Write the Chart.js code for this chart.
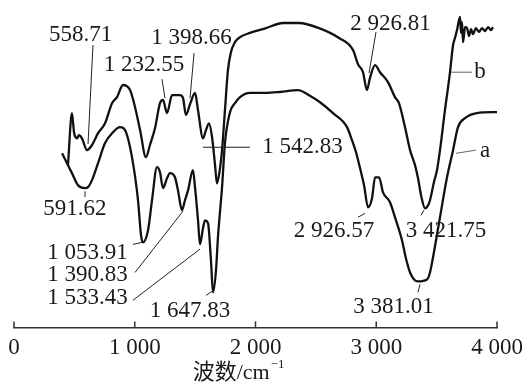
<!DOCTYPE html>
<html>
<head>
<meta charset="utf-8">
<script src="https://cdn.jsdelivr.net/npm/chart.js@4/dist/chart.umd.min.js"></script>
<style>
  html, body { margin: 0; padding: 0; background: #fff; }
  #wrap { width: 532px; height: 384px; position: relative; }
</style>
</head>
<body>
<div id="wrap"><canvas id="c"></canvas></div>
<script>
// ---- Data (wavenumber in cm^-1, relative transmittance) ----
const tickValues = [0, 1000, 2000, 3000, 4000];
const xTitle = '波数/cm';
const xTitleSup = '−1';

const waveB = [447,480,497,522,538,563,605,646,696,754,812,853,903,961,1002,1044,1093,1126,1168,1209,1234,1267,1309,1375,1400,1424,1458,1499,1524,1565,1590,1615,1640,1665,1681,1706,1723,1747,1772,1797,1830,1872,1955,2087,2228,2360,2526,2692,2808,2849,2890,2923,2948,2990,3031,3097,3155,3188,3238,3280,3321,3346,3371,3404,3429,3445,3478,3503,3528,3569,3611,3636,3652,3669,3694,3702,3710,3719,3735,3752,3768,3785,3801,3826,3851,3876,3901,3926,3950,3967];
const transB = [50.8,67.1,61.1,59.2,60.2,59.2,55.5,57.1,60.8,63.9,70.2,72.1,75.9,74.3,69.0,61.8,53.3,57.1,62.4,70.2,71.2,67.1,72.7,72.7,71.8,66.5,69.9,73.4,68.0,59.2,61.8,63.9,59.6,50.8,45.1,49.8,55.5,68.0,80.6,86.2,89.3,90.9,92.2,93.7,95.3,95.3,93.7,90.6,86.8,82.4,79.9,74.3,78.1,82.1,79.9,76.8,72.1,70.2,62.7,55.5,50.8,46.7,41.4,37.3,38.2,39.8,45.5,49.2,55.5,68.0,79.9,88.4,90.6,93.1,97.2,92.2,95.6,89.3,94.0,93.7,91.2,93.4,91.8,93.7,92.5,93.7,92.8,94.0,93.1,94.0];

const waveA = [398,447,480,530,588,613,646,696,754,820,878,919,977,1027,1052,1068,1110,1143,1184,1209,1234,1267,1292,1333,1358,1391,1416,1441,1482,1499,1524,1540,1565,1582,1607,1632,1648,1673,1689,1723,1747,1789,1830,1872,1955,2079,2203,2352,2443,2534,2642,2758,2799,2832,2866,2899,2932,2965,2990,3023,3056,3114,3155,3213,3246,3280,3313,3346,3420,3445,3470,3528,3586,3636,3677,3735,3834,4000];
const transA = [54.5,50.8,48.3,44.5,43.6,43.9,46.1,51.4,57.7,61.1,62.7,61.8,53.3,39.8,28.8,26.6,30.4,39.8,50.2,48.6,43.6,46.7,48.3,47.0,42.9,36.7,39.8,42.9,49.2,43.9,33.5,26.0,31.0,33.5,32.6,20.4,11.0,17.9,28.2,43.9,57.7,67.4,70.2,72.1,73.4,73.4,73.7,74.3,72.7,70.5,67.1,62.7,58.6,54.9,49.8,44.5,37.6,40.4,47.0,47.0,42.3,39.2,34.5,27.3,21.6,17.2,15.0,14.4,15.0,17.2,21.9,34.5,47.0,55.5,62.7,65.5,67.1,67.4];

// Peak labels: text, label centre (wavenumber, transmittance), leader line ends
const peakLabels = ['558.71','1 232.55','1 398.66','1 542.83','2 926.81','b','a','591.62','1 053.91','1 390.83','1 533.43','1 647.83','2 926.57','3 421.75','3 381.01'];
const labelAt = [[551,91.7],[1077,82.1],[1470,90.6],[2389,56.4],[3118,95.0],[3859,79.9],[3901,55.2],[505,37.0],[609,23.2],[609,16.3],[609,9.1],[1458,5.3],[2650,30.1],[3578,30.1],[3143,6.3]];
const leaderFrom = [[654,88.4],[1226,77.7],[1491,85.9],[1565,56.4],[2998,92.5],[3619,79.9],[3660,54.5],[588,42.6],[985,26.0],[1002,17.2],[985,8.5],[1590,10.0],[2849,34.5],[3371,35.1],[3346,11.0]];
const leaderTo = [[613,57.4],[1250,71.8],[1458,71.8],[1954,56.4],[2940,79.6],[3793,79.9],[3826,55.5],[588,40.8],[1060,26.6],[1400,36.4],[1540,24.5],[1640,11.3],[2907,35.7],[3395,36.7],[3362,13.5]];

const toXY = (xs, ys) => xs.map((x, i) => ({ x: x, y: ys[i] }));
const SERIF = '"Liberation Serif", "Times New Roman", "Noto Sans CJK SC", serif';

const annotPlugin = {
  id: 'annot',
  afterDraw(chart) {
    const ctx = chart.ctx;
    const xs = chart.scales.x, ys = chart.scales.y;
    const area = chart.chartArea;
    ctx.save();
    // upward ticks on the axis
    ctx.strokeStyle = '#333';
    ctx.lineWidth = 1.5;
    tickValues.forEach(v => {
      const px = xs.getPixelForValue(v);
      ctx.beginPath();
      ctx.moveTo(px, area.bottom);
      ctx.lineTo(px, area.bottom - 6);
      ctx.stroke();
    });
    // leader lines
    ctx.lineWidth = 1;
    peakLabels.forEach((t, i) => {
      ctx.strokeStyle = (t === 'a' || t === 'b') ? '#666' : '#222';
      ctx.beginPath();
      ctx.moveTo(xs.getPixelForValue(leaderFrom[i][0]), ys.getPixelForValue(leaderFrom[i][1]));
      ctx.lineTo(xs.getPixelForValue(leaderTo[i][0]), ys.getPixelForValue(leaderTo[i][1]));
      ctx.stroke();
    });
    // labels
    ctx.fillStyle = '#1a1a1a';
    ctx.font = '23px ' + SERIF;
    ctx.textAlign = 'center';
    ctx.textBaseline = 'middle';
    peakLabels.forEach((t, i) => {
      ctx.fillText(t, xs.getPixelForValue(labelAt[i][0]), ys.getPixelForValue(labelAt[i][1]));
    });
    // axis title with superscript
    ctx.textAlign = 'left';
    ctx.textBaseline = 'alphabetic';
    ctx.font = '22px ' + SERIF;
    const tx = xs.getPixelForValue(1480);
    const ty = area.bottom + 52;
    ctx.fillText(xTitle, tx, ty);
    const w = ctx.measureText(xTitle).width;
    ctx.font = '13px ' + SERIF;
    ctx.fillText(xTitleSup, tx + w + 1, ty - 11);
    ctx.restore();
  }
};

new Chart(document.getElementById('c'), {
  type: 'line',
  data: {
    datasets: [
      { label: 'b', data: toXY(waveB, transB), borderColor: '#111', borderWidth: 2.3, pointRadius: 0, tension: 0.25, cubicInterpolationMode: 'monotone', fill: false },
      { label: 'a', data: toXY(waveA, transA), borderColor: '#111', borderWidth: 2.3, pointRadius: 0, tension: 0.25, cubicInterpolationMode: 'monotone', fill: false }
    ]
  },
  options: {
    responsive: true,
    maintainAspectRatio: false,
    animation: false,
    devicePixelRatio: 1,
    layout: { padding: { left: 14, right: 35, top: 8, bottom: 15 } },
    plugins: { legend: { display: false }, tooltip: { enabled: false }, title: { display: false } },
    scales: {
      x: {
        type: 'linear', min: 0, max: 4000,
        afterBuildTicks: s => { s.ticks = tickValues.map(v => ({ value: v })); },
        ticks: {
          autoSkip: false, maxRotation: 0, padding: 7, color: '#1a1a1a',
          font: { family: SERIF, size: 23 },
          callback: v => v === 0 ? '0' : Math.floor(v / 1000) + ' ' + String(v % 1000).padStart(3, '0')
        },
        grid: { display: true, drawOnChartArea: false, drawTicks: false },
        border: { display: true, color: '#333', width: 1.5 }
      },
      y: { type: 'linear', min: 0, max: 100, display: false }
    }
  },
  plugins: [annotPlugin]
});
</script>
</body>
</html>
